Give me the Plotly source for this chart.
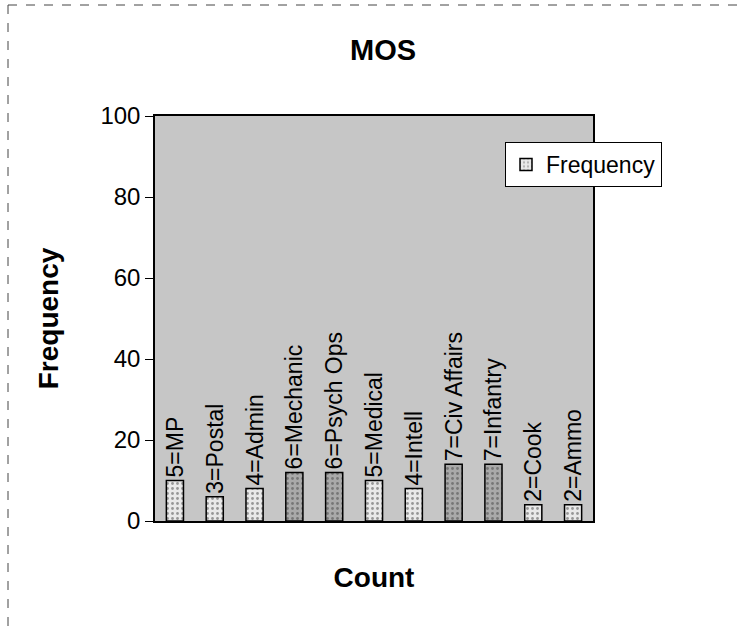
import plotly.graph_objects as go

categories = ["5=MP", "3=Postal", "4=Admin", "6=Mechanic", "6=Psych Ops", "5=Medical",
              "4=Intell", "7=Civ Affairs", "7=Infantry", "2=Cook", "2=Ammo"]
frequency = [10, 6, 8, 12, 12, 10, 8, 14, 14, 4, 4]
bar_shade = ["light", "light", "light", "dark", "dark", "light", "light", "dark", "dark", "light", "light"]
y_ticks = [0, 20, 40, 60, 80, 100]

shade_color = {"light": "#e9e9e9", "dark": "#a9a9a9"}
colors = [shade_color[s] for s in bar_shade]

FONT = "Liberation Sans, Arial, sans-serif"

fig = go.Figure()
fig.add_trace(go.Bar(
    x=categories,
    y=frequency,
    name="Frequency",
    text=categories,
    textposition="outside",
    textangle=-90,
    constraintext="none",
    cliponaxis=False,
    textfont=dict(family=FONT, size=23, color="black"),
    marker=dict(color=colors, line=dict(color="black", width=1.5),
                pattern=dict(shape=".", fgcolor="#777777", size=5, solidity=0.25)),
))

L, R, T, B = 155, 593, 116, 521
W, H = 739, 628

fig.update_layout(
    width=W, height=H,
    margin=dict(l=L, r=W - R, t=T, b=H - B, pad=0),
    paper_bgcolor="white",
    plot_bgcolor="#c6c6c6",
    bargap=0.57,
    font=dict(family=FONT, size=23, color="black"),
    title=dict(text="<b>MOS</b>", x=383 / W, xref="container",
               xanchor="center", y=1 - 50 / H, yanchor="middle",
               font=dict(family=FONT, size=29, color="black")),
    showlegend=True,
    legend=dict(x=(505 - L) / (R - L), y=(B - 142) / (B - T), xanchor="left", yanchor="top",
                bgcolor="white", bordercolor="black", borderwidth=1,
                font=dict(family=FONT, size=23, color="black"),
                itemwidth=30, tracegroupgap=0),
)

fig.update_xaxes(
    showticklabels=False, ticks="", showgrid=False,
    showline=True, linecolor="black", linewidth=1.5, mirror=True,
    title=dict(text="<b>Count</b>", font=dict(family=FONT, size=28), standoff=46),
)
fig.update_yaxes(
    range=[0, 100], tickvals=y_ticks, ticks="outside", ticklen=8, tickcolor="black",
    showgrid=False, zeroline=False,
    showline=True, linecolor="black", linewidth=1.5, mirror=True,
    tickfont=dict(family=FONT, size=24),
    title=dict(text="<b>Frequency</b>", font=dict(family=FONT, size=28), standoff=34),
)

# outer chart border (dashed, as in the scanned original)
fig.add_shape(type="line", xref="paper", yref="paper",
              x0=(8 - L) / (R - L), x1=(739 - L) / (R - L),
              y0=(B - 5) / (B - T), y1=(B - 5) / (B - T),
              line=dict(color="#444444", width=1, dash="dash"))
fig.add_shape(type="line", xref="paper", yref="paper",
              x0=(8 - L) / (R - L), x1=(8 - L) / (R - L),
              y0=(B - 5) / (B - T), y1=(B - 628) / (B - T),
              line=dict(color="#444444", width=1, dash="dash"))

fig.write_html("out.html")
